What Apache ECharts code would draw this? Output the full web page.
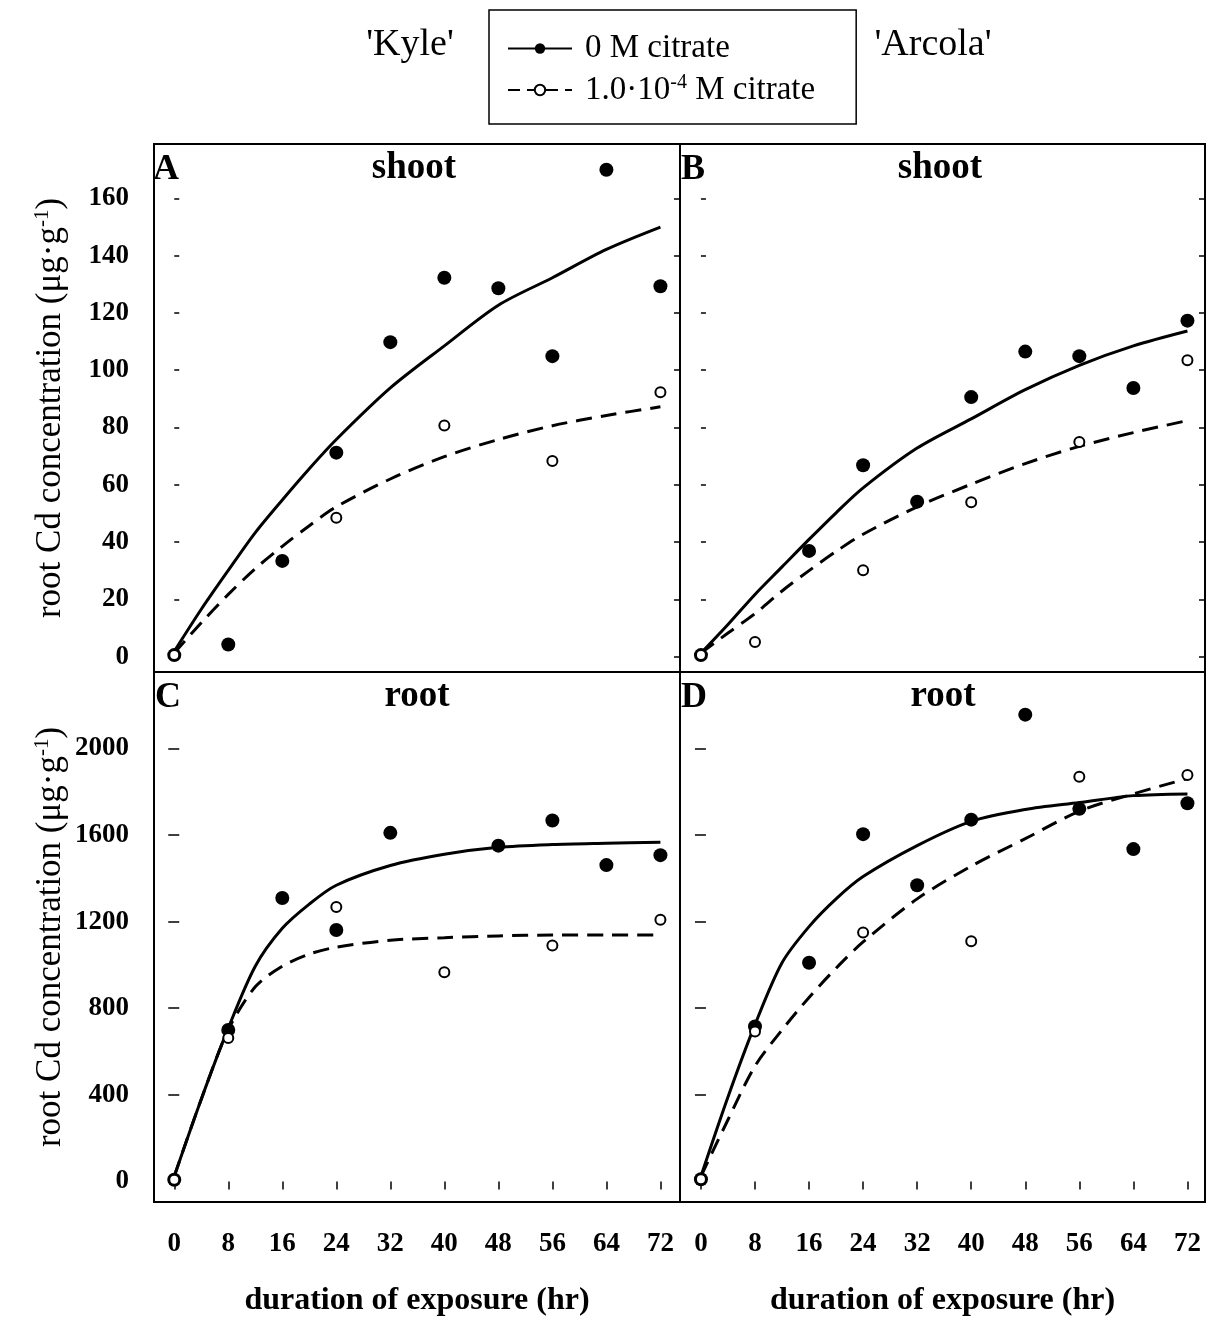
<!DOCTYPE html>
<html>
<head>
<meta charset="utf-8">
<script src="https://cdn.jsdelivr.net/npm/echarts@6/dist/echarts.min.js"></script>
<style>
html,body{margin:0;padding:0;background:#fff;}
#chart{width:1209px;height:1322px;}
</style>
</head>
<body>
<div id="chart"></div>
<script>
// ---------- DATA ----------
const hours = [0, 8, 16, 24, 32, 40, 48, 56, 64, 72];
const xTicks = [0, 8, 16, 24, 32, 40, 48, 56, 64, 72];
const shootTicks = [0, 20, 40, 60, 80, 100, 120, 140, 160];
const rootTicks = [0, 400, 800, 1200, 1600, 2000];

// measured points (null = not shown)
const kyleShoot0   = [0.5, 4.2, 33.4, 71.2, 109.8, 132.3, 128.6, 104.9, 170.0, 129.3];
const kyleShootCit = [0.5, null, null, 48.5, null, 80.7, null, 68.3, null, 92.3];
const arcShoot0    = [0.5, null, 36.9, 66.8, 54.1, 90.6, 106.5, 104.9, 93.8, 117.3];
const arcShootCit  = [0.5, 5.1, null, 30.1, null, 53.9, null, 74.9, null, 103.5];
const kyleRoot0    = [8, 700, 1309, 1161, 1610, null, 1551, 1667, 1461, 1507];
const kyleRootCit  = [8, 663, null, 1268, null, 966, null, 1090, null, 1209];
const arcRoot0     = [10, 716, 1010, 1604, 1368, 1671, 2156, 1721, 1535, 1747];
const arcRootCit   = [10, 692, null, 1150, null, 1109, null, 1869, null, 1877];

// fitted curves
const fitHours = [0, 4, 8, 12, 16, 20, 24, 32, 40, 48, 56, 64, 72];
const kyleShootFit0   = [1.8, 16.5, 30.1, 43.3, 54.7, 65.6, 75.8, 93.8, 108.5, 122.7, 132.3, 142.2, 150.0];
const kyleShootFitCit = [1.2, 11.8, 21.7, 30.7, 38.5, 45.7, 52.3, 62.0, 69.8, 75.8, 80.6, 84.2, 87.2];
const arcShootFit0    = [1.2, 11.2, 21.7, 31.3, 40.9, 50.2, 58.9, 72.8, 83.0, 93.2, 101.7, 108.5, 113.7];
const arcShootFitCit  = [1.2, 8.2, 15.0, 22.9, 30.0, 36.7, 42.7, 52.3, 60.2, 67.4, 73.4, 78.2, 82.4];
const kyleRootFit0    = [24, 380, 708, 994, 1169, 1281, 1368, 1459, 1511, 1543, 1556, 1562, 1567];
const kyleRootFitCit  = [24, 380, 700, 899, 994, 1050, 1082, 1114, 1126, 1134, 1138, 1138, 1138];
const arcRootFit0     = [24, 390, 724, 1010, 1177, 1305, 1408, 1551, 1663, 1718, 1750, 1782, 1790];
const arcRootFitCit   = [24, 285, 533, 700, 850, 985, 1106, 1305, 1456, 1583, 1710, 1790, 1861];

// ---------- HELPERS ----------
const FONT = "'Liberation Serif','Times New Roman',serif";
function pts(xs, ys) {
  const out = [];
  xs.forEach((x, i) => { if (ys[i] !== null && ys[i] !== undefined) out.push([x, ys[i]]); });
  return out;
}

const grids = [
  {left: 154, top: 144, width: 526, height: 528},
  {left: 680, top: 144, width: 525, height: 528},
  {left: 154, top: 672, width: 526, height: 530},
  {left: 680, top: 672, width: 525, height: 530}
].map(g => Object.assign(g, {show: true, borderColor: '#000', borderWidth: 2, backgroundColor: 'transparent'}));

const xRanges = [[-3, 74.9], [-3.1, 74.6], [-3, 74.9], [-3.1, 74.6]];
const yRanges = [[-5.4, 179], [-5.4, 179], [-95, 2353], [-95, 2353]];

const xAxes = [];
for (let i = 0; i < 4; i++) {
  const bottomLabels = i >= 2;
  xAxes.push({
    type: 'value', gridIndex: i, position: 'bottom',
    min: xRanges[i][0], max: xRanges[i][1],
    splitLine: {show: false},
    axisLine: {show: false},
    axisTick: {show: bottomLabels, inside: false, length: 8, customValues: xTicks,
      lineStyle: {color: '#000', width: 1.5}},
    axisLabel: {show: bottomLabels, customValues: xTicks, margin: 29,
      formatter: v => String(v),
      fontFamily: FONT, fontWeight: 'bold', fontSize: 27, color: '#000'},
    name: bottomLabels ? 'duration of exposure (hr)' : '',
    nameLocation: 'middle', nameGap: 83,
    nameTextStyle: {fontFamily: FONT, fontWeight: 'bold', fontSize: 32, color: '#000'}
  });
}
// top inward ticks on lower panels
for (let i = 2; i < 4; i++) {
  xAxes.push({
    type: 'value', gridIndex: i, position: 'top',
    min: xRanges[i][0], max: xRanges[i][1],
    splitLine: {show: false}, axisLine: {show: false},
    axisTick: {show: true, inside: true, length: 8, customValues: xTicks, lineStyle: {color: '#000', width: 1.5}},
    axisLabel: {show: false}
  });
}

const yName = '{a|root Cd concentration (μg·g}{s|-1}{a|)}';
const yAxes = [];
for (let i = 0; i < 4; i++) {
  const ticks = i < 2 ? shootTicks : rootTicks;
  const labels = (i === 0 || i === 2);
  yAxes.push({
    type: 'value', gridIndex: i, position: 'left',
    min: yRanges[i][0], max: yRanges[i][1],
    splitLine: {show: false}, axisLine: {show: false},
    axisTick: {show: true, inside: true, length: 5, customValues: ticks, lineStyle: {color: '#000', width: 1.5}},
    axisLabel: {show: labels, customValues: ticks, margin: 25,
      formatter: v => String(v),
      fontFamily: FONT, fontWeight: 'bold', fontSize: 27, color: '#000'},
    name: labels ? yName : '',
    nameLocation: 'middle', nameGap: 84,
    nameTextStyle: {color: '#000', rich: {
      a: {fontFamily: FONT, fontSize: 35, color: '#000', lineHeight: 38},
      s: {fontFamily: FONT, fontSize: 21, color: '#000', verticalAlign: 'top', lineHeight: 38, padding: [0, 0, 14, 0]}
    }}
  });
}
for (let i = 0; i < 4; i++) {
  const ticks = i < 2 ? shootTicks : rootTicks;
  yAxes.push({
    type: 'value', gridIndex: i, position: 'right',
    min: yRanges[i][0], max: yRanges[i][1],
    splitLine: {show: false}, axisLine: {show: false},
    axisTick: {show: true, inside: true, length: 6, customValues: ticks, lineStyle: {color: '#000', width: 1.5}},
    axisLabel: {show: false}
  });
}

const panels = [
  {fit0: kyleShootFit0, fitC: kyleShootFitCit, p0: kyleShoot0, pC: kyleShootCit},
  {fit0: arcShootFit0,  fitC: arcShootFitCit,  p0: arcShoot0,  pC: arcShootCit},
  {fit0: kyleRootFit0,  fitC: kyleRootFitCit,  p0: kyleRoot0,  pC: kyleRootCit},
  {fit0: arcRootFit0,   fitC: arcRootFitCit,   p0: arcRoot0,   pC: arcRootCit}
];

const LEG0 = '0 M citrate';
const LEG1 = '1.0·10-4 M citrate';
const series = [];
// legend-only series
series.push({name: LEG0, type: 'line', data: [], xAxisIndex: 0, yAxisIndex: 0,
  symbol: 'circle', symbolSize: 11, itemStyle: {color: '#000'},
  lineStyle: {color: '#000', width: 2.5, type: 'solid'}});
series.push({name: LEG1, type: 'line', data: [], xAxisIndex: 0, yAxisIndex: 0,
  symbol: 'circle', symbolSize: 9, itemStyle: {color: '#fff', borderColor: '#000', borderWidth: 1.6},
  lineStyle: {color: '#000', width: 2.5, type: [12, 7]}});

panels.forEach((p, i) => {
  series.push({type: 'line', xAxisIndex: i, yAxisIndex: i, data: pts(fitHours, p.fit0),
    smooth: 0.3, showSymbol: false, symbol: 'none', silent: true,
    lineStyle: {color: '#000', width: 3, type: 'solid'}, z: 2});
  series.push({type: 'line', xAxisIndex: i, yAxisIndex: i, data: pts(fitHours, p.fitC),
    smooth: 0.3, showSymbol: false, symbol: 'none', silent: true,
    lineStyle: {color: '#000', width: 3, type: [16, 9]}, z: 2});
  series.push({type: 'scatter', xAxisIndex: i, yAxisIndex: i, data: pts(hours, p.p0),
    symbol: 'circle', symbolSize: 14, itemStyle: {color: '#000', opacity: 1}, clip: false, z: 3});
  series.push({type: 'scatter', xAxisIndex: i, yAxisIndex: i, data: pts(hours, p.pC),
    symbol: 'circle', symbolSize: 10, itemStyle: {color: '#fff', borderColor: '#000', borderWidth: 2, opacity: 1}, clip: false, z: 4});
});

const txt = (text, x, y, size, weight, align) => ({
  type: 'text', x: x, y: y, z: 10,
  style: {text: text, font: (weight || 'normal') + ' ' + size + 'px ' + FONT, fill: '#000',
    textAlign: align || 'left', textVerticalAlign: 'top'}
});

const option = {
  backgroundColor: '#fff',
  animation: false,
  grid: grids,
  xAxis: xAxes,
  yAxis: yAxes,
  legend: {
    orient: 'vertical', left: 489, top: 10,
    padding: [22, 41, 17, 18], itemGap: 8,
    itemWidth: 64, itemHeight: 13,
    borderColor: '#000', borderWidth: 1.5,
    data: [LEG0, LEG1],
    formatter: function (name) {
      return name === LEG0 ? '{t|0 M citrate}' : '{t|1.0·10}{s|-4}{u| M citrate}';
    },
    textStyle: {color: '#000', rich: {
      t: {fontFamily: FONT, fontSize: 33, lineHeight: 34, color: '#000', padding: [0, 0, 0, 8]},
      u: {fontFamily: FONT, fontSize: 33, lineHeight: 34, color: '#000'},
      s: {fontFamily: FONT, fontSize: 20, lineHeight: 34, color: '#000', verticalAlign: 'top', padding: [0, 0, 14, 0]}
    }}
  },
  graphic: [
    txt("'Kyle'", 410, 26, 38, 'normal', 'center'),
    txt("'Arcola'", 933, 26, 38, 'normal', 'center'),
    txt('A', 153, 152, 36, 'bold'),
    txt('shoot', 414, 150, 37, 'bold', 'center'),
    txt('B', 681, 152, 36, 'bold'),
    txt('shoot', 940, 150, 37, 'bold', 'center'),
    txt('C', 155, 680, 36, 'bold'),
    txt('root', 417, 678, 37, 'bold', 'center'),
    txt('D', 681, 680, 36, 'bold'),
    txt('root', 943, 678, 37, 'bold', 'center')
  ],
  series: series
};

const chart = echarts.init(document.getElementById('chart'), null, {renderer: 'canvas'});
chart.setOption(option);
</script>
</body>
</html>
